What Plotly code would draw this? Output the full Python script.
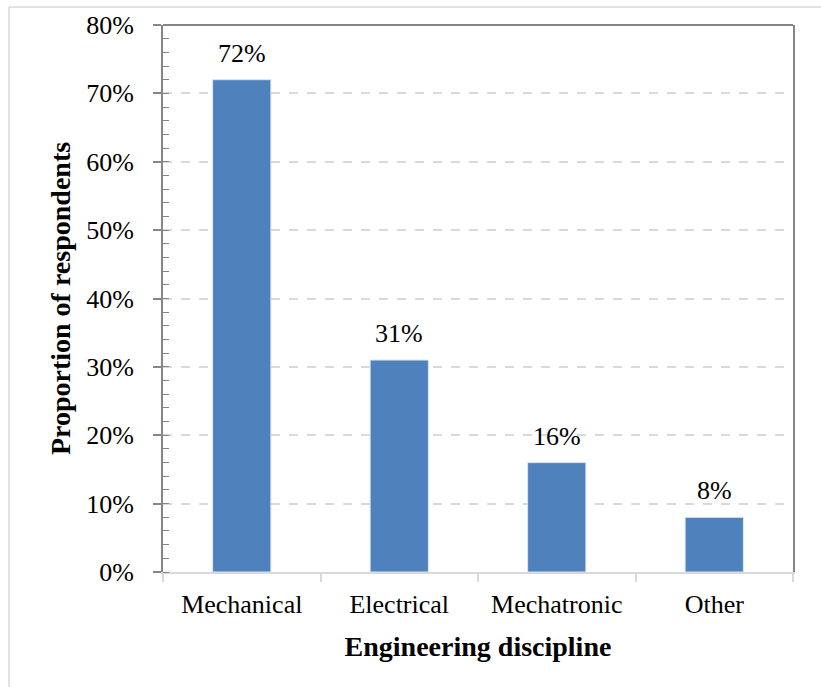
import plotly.graph_objects as go

# Survey result: share of respondents by engineering discipline
disciplines = ["Mechanical", "Electrical", "Mechatronic", "Other"]
shares = [72, 31, 16, 8]
y_ticks = [0, 10, 20, 30, 40, 50, 60, 70, 80]
y_tick_text = [f"{v}%" for v in y_ticks]

FONT = "Liberation Serif, Times New Roman, serif"
BAR_COLOR = "#4F81BD"
AXIS_DARK = "#868686"
GRID = "#D9D9D9"

fig = go.Figure(
    go.Bar(
        x=disciplines,
        y=shares,
        marker=dict(color=BAR_COLOR, line=dict(color="#DCE6F2", width=1)),
        width=0.37,
        hoverinfo="skip",
    )
)

# Percentage labels above each bar
for name, val in zip(disciplines, shares):
    fig.add_annotation(
        x=name, y=val, text=f"{val}%", showarrow=False,
        yanchor="bottom", yshift=10,
        font=dict(family=FONT, size=26, color="#000000"),
    )

fig.update_layout(
    width=821, height=687,
    margin=dict(l=163, r=28, t=25, b=115),
    paper_bgcolor="white", plot_bgcolor="white",
    showlegend=False,
    font=dict(family=FONT, size=26, color="#000000"),
    bargap=0.63,
)

fig.update_yaxes(
    range=[0, 80],
    tickvals=y_ticks, ticktext=y_tick_text,
    showline=True, linecolor=AXIS_DARK, linewidth=2, mirror=True,
    ticks="outside", ticklen=8, tickcolor=AXIS_DARK, tickwidth=2,
    ticklabelstandoff=14,
    minor=dict(dtick=2, ticks="inside", ticklen=6, tickcolor=AXIS_DARK, tickwidth=1, showgrid=False),
    showgrid=True, gridcolor=GRID, griddash="dash", gridwidth=1.5,
    zeroline=False,
    tickfont=dict(family=FONT, size=26),
    title=dict(text="<b>Proportion of respondents</b>", standoff=7,
               font=dict(family=FONT, size=28)),
)

fig.update_xaxes(
    showline=True, linecolor=GRID, linewidth=2,
    ticks="outside", tickson="boundaries", ticklen=8, tickcolor=GRID, tickwidth=2,
    ticklabelstandoff=8,
    showgrid=False,
    tickfont=dict(family=FONT, size=26),
    title=dict(text="<b>Engineering discipline</b>", standoff=18,
               font=dict(family=FONT, size=28)),
)

# Top edge of the plot frame
fig.add_shape(type="line", xref="paper", yref="paper", x0=0, x1=1, y0=1, y1=1,
              line=dict(color=AXIS_DARK, width=2))

# Light outer chart border (top and left edges)
fig.add_shape(type="line", xref="paper", yref="paper",
              x0=-0.2444, x1=1.05, y0=1.0329, y1=1.0329,
              line=dict(color="#D9D9D9", width=1.5))
fig.add_shape(type="line", xref="paper", yref="paper",
              x0=-0.2444, x1=-0.2444, y0=1.0329, y1=-0.22,
              line=dict(color="#D9D9D9", width=1.5))

fig.write_html("out.html")
